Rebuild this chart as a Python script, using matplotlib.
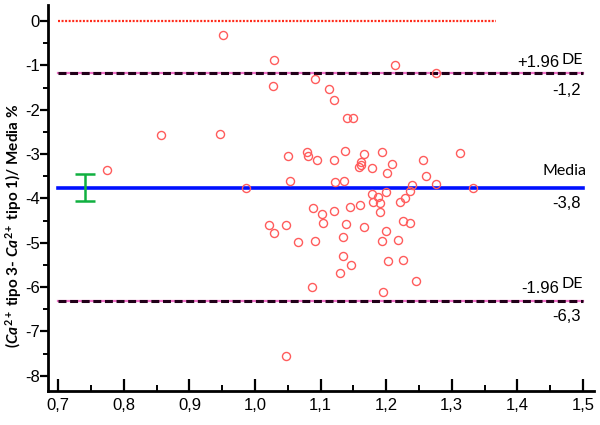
import matplotlib
matplotlib.use("Agg")
import matplotlib.pyplot as plt
from matplotlib.ticker import MultipleLocator, FixedLocator

# ---- data ----
x_vals = [0.951, 1.029, 1.028, 1.214, 1.276, 1.091, 1.113, 1.121, 1.141, 1.149,
          0.947, 0.857, 0.774, 0.987, 1.051, 1.054, 1.079, 1.081, 1.094, 1.120,
          1.137, 1.166, 1.193, 1.161, 1.159, 1.162, 1.179, 1.209, 1.202, 1.256,
          1.312, 1.261, 1.276, 1.332, 1.122, 1.136, 1.240, 1.237, 1.200, 1.178,
          1.187, 1.180, 1.191, 1.190, 1.221, 1.229, 1.089, 1.102, 1.120, 1.145,
          1.160, 1.103, 1.138, 1.021, 1.029, 1.048, 1.166, 1.226, 1.237, 1.200,
          1.066, 1.092, 1.134, 1.194, 1.218, 1.134, 1.147, 1.129, 1.203, 1.225,
          1.245, 1.087, 1.195, 1.048]
y_vals = [-0.316, -0.874, -1.461, -1.000, -1.167, -1.309, -1.528, -1.790, -2.196, -2.183,
          -2.544, -2.573, -3.370, -3.758, -3.036, -3.612, -2.950, -3.047, -3.126, -3.138,
          -2.923, -3.002, -2.950, -3.183, -3.289, -3.239, -3.323, -3.221, -3.420, -3.131,
          -2.986, -3.499, -3.679, -3.763, -3.641, -3.612, -3.702, -3.826, -3.853, -3.901,
          -3.966, -4.086, -4.108, -4.296, -4.086, -4.002, -4.217, -4.352, -4.278, -4.205,
          -4.153, -4.544, -4.576, -4.598, -4.779, -4.589, -4.650, -4.503, -4.544, -4.740,
          -4.982, -4.950, -4.869, -4.950, -4.928, -5.305, -5.503, -5.677, -5.411, -5.395,
          -5.869, -5.993, -6.122, -7.551]

mean_diff = -3.76
upper_loa = -1.18
lower_loa = -6.31
mean_ci = [-4.06, -3.45]
ci_x = 0.74
zero_end = 1.367
line_start = 0.7
line_end = 1.5

x_ticks = [0.7, 0.8, 0.9, 1.0, 1.1, 1.2, 1.3, 1.4, 1.5]
x_tick_labels = ["0,7", "0,8", "0,9", "1,0", "1,1", "1,2", "1,3", "1,4", "1,5"]
y_ticks = [0, -1, -2, -3, -4, -5, -6, -7, -8]
y_tick_labels = ["0", "-1", "-2", "-3", "-4", "-5", "-6", "-7", "-8"]

upper_labels = ("+1.96", "DE", "-1,2")
mean_labels = ("Media", "-3,8")
lower_labels = ("-1.96", "DE", "-6,3")
y_label = r"($\mathit{Ca}^{2+}$ tipo 3- $\mathit{Ca}^{2+}$ tipo 1)/ Media %"

# ---- style ----
narrow = ["Liberation Sans Narrow", "Liberation Sans", "DejaVu Sans"]
plt.rcParams["mathtext.fontset"] = "custom"
plt.rcParams["mathtext.it"] = "Lato:italic:bold"
plt.rcParams["mathtext.rm"] = "Lato:bold"
plt.rcParams["mathtext.bf"] = "Lato:bold"

fig = plt.figure(figsize=(6, 4.25), dpi=100)
ax = fig.add_axes([0.0795, 0.08, 0.9105, 0.908])

ax.set_xlim(0.6838, 1.517)
ax.set_ylim(-8.345, 0.361)

# reference lines
ax.plot([line_start, zero_end], [0, 0], color="#ff2a1a", lw=1.6, ls=(0, (0.9, 0.7)), zorder=2)
for yv in (upper_loa, lower_loa):
    ax.plot([line_start, line_end], [yv, yv], color="#f070c8", lw=1.6, zorder=2)
    ax.plot([line_start, line_end], [yv, yv], color="#200018", lw=2.2, ls=(0, (2.6, 1.2)), zorder=2)
ax.plot([line_start, line_end], [mean_diff, mean_diff], color="#0010ff", lw=2.6, zorder=2)

# confidence interval of the mean
ax.errorbar([ci_x], [(mean_ci[0] + mean_ci[1]) / 2],
            yerr=[[(mean_ci[1] - mean_ci[0]) / 2]], fmt="none",
            ecolor="#10b040", elinewidth=1.8, capsize=7.5, capthick=1.8, zorder=3)

# points
ax.plot(x_vals, y_vals, ls="none", marker="o", ms=5.8, mfc="none",
        mec="#ff5c5c", mew=1.0, zorder=4)

# labels on lines
ax.text(1.464, upper_loa + 0.25, upper_labels[0], ha="right", va="center",
        fontsize=12, family=narrow)
ax.text(1.5, upper_loa + 0.30, upper_labels[1], ha="right", va="center",
        fontsize=11.5, family=["Lato", "DejaVu Sans"])
ax.text(1.497, upper_loa - 0.38, upper_labels[2], ha="right", va="center",
        fontsize=12, family=narrow)

ax.text(1.505, mean_diff + 0.37, mean_labels[0], ha="right", va="center",
        fontsize=11.5, family=["Lato", "DejaVu Sans"])
ax.text(1.497, mean_diff - 0.35, mean_labels[1], ha="right", va="center",
        fontsize=12, family=narrow)

ax.text(1.464, lower_loa + 0.28, lower_labels[0], ha="right", va="center",
        fontsize=12, family=narrow)
ax.text(1.5, lower_loa + 0.38, lower_labels[1], ha="right", va="center",
        fontsize=11.5, family=["Lato", "DejaVu Sans"])
ax.text(1.497, lower_loa - 0.35, lower_labels[2], ha="right", va="center",
        fontsize=12, family=narrow)

# axes styling
for s in ("top", "right"):
    ax.spines[s].set_visible(False)
for s in ("left", "bottom"):
    ax.spines[s].set_linewidth(2.0)
    ax.spines[s].set_color("black")

ax.xaxis.set_major_locator(FixedLocator(x_ticks))
ax.set_xticklabels(x_tick_labels)
ax.xaxis.set_minor_locator(MultipleLocator(0.05))
ax.yaxis.set_major_locator(FixedLocator(y_ticks))
ax.set_yticklabels(y_tick_labels)
ax.yaxis.set_minor_locator(MultipleLocator(0.5))

ax.tick_params(axis="x", which="major", direction="in", length=9, width=1.6, pad=5)
ax.tick_params(axis="x", which="minor", direction="in", length=4.5, width=1.4)
ax.tick_params(axis="y", which="major", direction="out", length=5.5, width=1.6, pad=0)
ax.tick_params(axis="y", which="minor", direction="out", length=3.5, width=1.4)
for lab in ax.get_xticklabels() + ax.get_yticklabels():
    lab.set_family(narrow)
    lab.set_fontsize(12)

fig.text(0.022, (425 - 226) / 425, y_label, rotation=90, ha="center", va="center",
         fontsize=11, family=["Lato", "DejaVu Sans"], fontweight="bold")

fig.savefig("out.png", dpi=100)
